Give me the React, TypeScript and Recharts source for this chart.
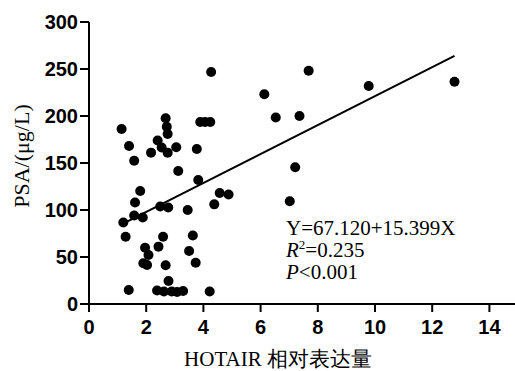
import React from "react";
import {
  ScatterChart,
  Scatter,
  XAxis,
  YAxis,
  ReferenceLine,
  Customized,
} from "recharts";

// HOTAIR relative expression (x) and PSA (μg/L) (y)
const hotair = [
  1.14, 1.4, 1.58, 2.68, 2.72, 2.75, 2.4, 2.54, 2.17, 2.75, 3.05, 3.89, 4.06, 4.24,
  3.77, 3.12, 3.82, 1.79, 1.61, 1.58, 1.88, 1.2, 1.28, 2.49, 2.77, 3.45, 4.38, 4.57,
  4.88, 2.59, 2.43, 1.96, 2.08, 1.9, 2.03, 2.68, 3.5, 3.63, 3.73, 1.39, 2.38, 2.62,
  2.78, 2.89, 3.08, 3.29, 4.22, 4.27, 6.13, 6.53, 7.36, 7.68, 9.78, 12.78, 7.21, 7.02,
];
const psa = [
  186.2, 168.1, 152.4, 197.6, 188.6, 180.9, 173.9, 166.5, 161, 161, 166.7, 193.6, 193.6,
  193.6, 164.9, 141.5, 131.9, 120.2, 108, 94.1, 92, 86.7, 71.6, 103.7, 102.7, 100, 106,
  118.1, 116.5, 71.6, 61, 59.9, 52.1, 43.3, 41.5, 41.2, 56.4, 72.9, 43.9, 14.9, 14.4,
  13.3, 24.5, 13.3, 12.8, 13.8, 13.3, 246.8, 223.1, 198.4, 200, 248.2, 231.9, 236.5,
  145.4, 109.4,
];

const xTicks = [0, 2, 4, 6, 8, 10, 12, 14];
const yTicks = [0, 50, 100, 150, 200, 250, 300];

const fitIntercept = 67.12;
const fitSlope = 15.399;

const points = hotair.map((x, i) => ({ x, y: psa[i] }));
const xMin = Math.min(...hotair);
const xMax = Math.max(...hotair);
const fitSegment = [
  { x: xMin, y: fitIntercept + fitSlope * xMin },
  { x: xMax, y: fitIntercept + fitSlope * xMax },
];

const tickFont = {
  fontFamily: "'Liberation Sans', Arial, sans-serif",
  fontSize: 20,
  fontWeight: 700,
  fill: "#000",
};
const serif = "'Liberation Serif', 'Times New Roman', serif";

const Dot = (props: any) => {
  const { cx, cy } = props;
  return <circle cx={cx} cy={cy} r={5} fill="#000" />;
};

const Annotations = () => (
  <g fontFamily={serif} fill="#000">
    <text x={21} y={156} fontSize={22} textAnchor="middle" dominantBaseline="central" transform="rotate(-90 21 156)">
      PSA/(μg/L)
    </text>
    <text x={278} y={366} fontSize={21} textAnchor="middle">
      HOTAIR 相对表达量
    </text>
    <text x={286} y={235} fontSize={21}>Y=67.120+15.399X</text>
    <text x={286} y={257} fontSize={21}>
      <tspan fontStyle="italic">R</tspan>
      <tspan fontSize={13} dy={-8}>2</tspan>
      <tspan dy={8}>=0.235</tspan>
    </text>
    <text x={286} y={279} fontSize={21}>
      <tspan fontStyle="italic">P</tspan>
      <tspan>&lt;0.001</tspan>
    </text>
  </g>
);

export default function App() {
  return (
    <div
      style={{
        position: "absolute",
        left: 0,
        top: 0,
        width: 515,
        height: 371,
        overflow: "hidden",
        background: "#fff",
      }}
    >
      <ScatterChart
        width={530}
        height={371}
        margin={{ top: 22, right: 12, bottom: 0, left: 0 }}
      >
        <XAxis
          type="number"
          dataKey="x"
          domain={[0, 15]}
          ticks={xTicks}
          interval={0}
          height={67}
          tickSize={8}
          tickMargin={8}
          tick={tickFont}
          axisLine={{ stroke: "#000", strokeWidth: 2 }}
          tickLine={{ stroke: "#000", strokeWidth: 2 }}
          allowDataOverflow
        />
        <YAxis
          type="number"
          dataKey="y"
          domain={[0, 300]}
          ticks={yTicks}
          interval={0}
          width={89}
          tickSize={9}
          tickMargin={2}
          tick={tickFont}
          axisLine={{ stroke: "#000", strokeWidth: 2 }}
          tickLine={{ stroke: "#000", strokeWidth: 2 }}
        />
        <ReferenceLine
          segment={fitSegment}
          stroke="#000"
          strokeWidth={2}
          isAnimationActive={false}
        />
        <Scatter data={points} fill="#000" shape={<Dot />} isAnimationActive={false} />
        <Customized component={Annotations} />
      </ScatterChart>
    </div>
  );
}
